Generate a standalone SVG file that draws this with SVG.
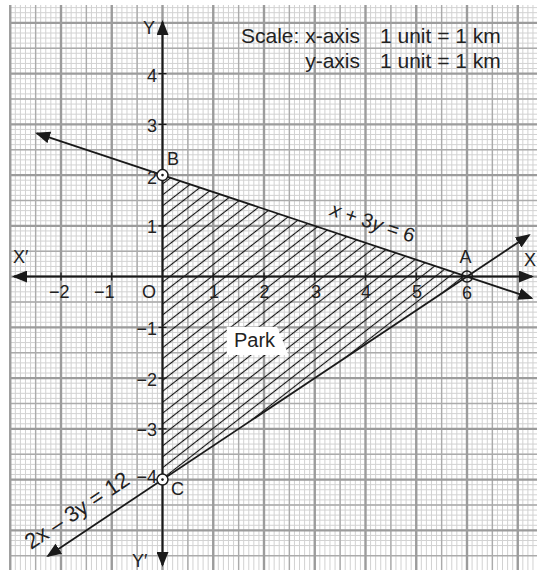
<svg xmlns="http://www.w3.org/2000/svg" width="537" height="570" viewBox="0 0 537 570">
<defs>
<style>
.minor{stroke:#d2d2d2;stroke-width:1;fill:none}
.medium{stroke:#ababab;stroke-width:1.4;fill:none}
.major{stroke:#9c9c9c;stroke-width:2.4;fill:none}
.axis{stroke:#1a1a1a;stroke-width:2;fill:none}
.ln{stroke:#1a1a1a;stroke-width:1.8;fill:none}
.tick{stroke:#1a1a1a;stroke-width:1.3}
.t{font-family:"Liberation Sans",Arial,sans-serif;font-size:18px;fill:#222}
.big{font-family:"Liberation Sans",Arial,sans-serif;font-size:21px;fill:#222}
.eq{font-family:"Liberation Sans",Arial,sans-serif;font-size:20px;fill:#222}
.pt{fill:#fff;stroke:#1a1a1a;stroke-width:1.5}
</style>
<marker id="arr" viewBox="0 0 15 12" refX="13" refY="6" markerWidth="15" markerHeight="12" markerUnits="userSpaceOnUse" orient="auto-start-reverse">
<path d="M0,0 L15,6 L0,12 z" fill="#1a1a1a"/>
</marker>
<pattern id="hatch" patternUnits="userSpaceOnUse" width="20" height="8.6" patternTransform="rotate(-38)">
<line x1="0" y1="4.3" x2="20" y2="4.3" stroke="#111" stroke-width="1.15"/>
</pattern>
<clipPath id="tri"><polygon points="162.5,175.1 467,276.6 162.5,479.6"/></clipPath>
</defs>
<rect width="537" height="570" fill="#fff"/>
<g id="grid">
<path class="minor" d="M10.25,5v565m5.075-565v565m5.075-565v565m5.075-565v565m5.075-565v565m5.075-565v565m5.075-565v565m5.075-565v565m5.075-565v565m5.075-565v565m5.075-565v565m5.075-565v565m5.075-565v565m5.075-565v565m5.075-565v565m5.075-565v565m5.075-565v565m5.075-565v565m5.075-565v565m5.075-565v565m5.075-565v565m5.075-565v565m5.075-565v565m5.075-565v565m5.075-565v565m5.075-565v565m5.075-565v565m5.075-565v565m5.075-565v565m5.075-565v565m5.075-565v565m5.075-565v565m5.075-565v565m5.075-565v565m5.075-565v565m5.075-565v565m5.075-565v565m5.075-565v565m5.075-565v565m5.075-565v565m5.075-565v565m5.075-565v565m5.075-565v565m5.075-565v565m5.075-565v565m5.075-565v565m5.075-565v565m5.075-565v565m5.075-565v565m5.075-565v565m5.075-565v565m5.075-565v565m5.075-565v565m5.075-565v565m5.075-565v565m5.075-565v565m5.075-565v565m5.075-565v565m5.075-565v565m5.075-565v565m5.075-565v565m5.075-565v565m5.075-565v565m5.075-565v565m5.075-565v565m5.075-565v565m5.075-565v565m5.075-565v565m5.075-565v565m5.075-565v565m5.075-565v565m5.075-565v565m5.075-565v565m5.075-565v565m5.075-565v565m5.075-565v565m5.075-565v565m5.075-565v565m5.075-565v565m5.075-565v565m5.075-565v565m5.075-565v565m5.075-565v565m5.075-565v565m5.075-565v565m5.075-565v565m5.075-565v565m5.075-565v565m5.075-565v565m5.075-565v565m5.075-565v565m5.075-565v565m5.075-565v565m5.075-565v565m5.075-565v565m5.075-565v565m5.075-565v565m5.075-565v565m5.075-565v565m5.075-565v565m5.075-565v565m5.075-565v565m5.075-565v565m5.075-565v565m5.075-565v565"/>
<path class="minor" d="M10,7.625h527m-527,5.075h527m-527,5.075h527m-527,5.075h527m-527,5.075h527m-527,5.075h527m-527,5.075h527m-527,5.075h527m-527,5.075h527m-527,5.075h527m-527,5.075h527m-527,5.075h527m-527,5.075h527m-527,5.075h527m-527,5.075h527m-527,5.075h527m-527,5.075h527m-527,5.075h527m-527,5.075h527m-527,5.075h527m-527,5.075h527m-527,5.075h527m-527,5.075h527m-527,5.075h527m-527,5.075h527m-527,5.075h527m-527,5.075h527m-527,5.075h527m-527,5.075h527m-527,5.075h527m-527,5.075h527m-527,5.075h527m-527,5.075h527m-527,5.075h527m-527,5.075h527m-527,5.075h527m-527,5.075h527m-527,5.075h527m-527,5.075h527m-527,5.075h527m-527,5.075h527m-527,5.075h527m-527,5.075h527m-527,5.075h527m-527,5.075h527m-527,5.075h527m-527,5.075h527m-527,5.075h527m-527,5.075h527m-527,5.075h527m-527,5.075h527m-527,5.075h527m-527,5.075h527m-527,5.075h527m-527,5.075h527m-527,5.075h527m-527,5.075h527m-527,5.075h527m-527,5.075h527m-527,5.075h527m-527,5.075h527m-527,5.075h527m-527,5.075h527m-527,5.075h527m-527,5.075h527m-527,5.075h527m-527,5.075h527m-527,5.075h527m-527,5.075h527m-527,5.075h527m-527,5.075h527m-527,5.075h527m-527,5.075h527m-527,5.075h527m-527,5.075h527m-527,5.075h527m-527,5.075h527m-527,5.075h527m-527,5.075h527m-527,5.075h527m-527,5.075h527m-527,5.075h527m-527,5.075h527m-527,5.075h527m-527,5.075h527m-527,5.075h527m-527,5.075h527m-527,5.075h527m-527,5.075h527m-527,5.075h527m-527,5.075h527m-527,5.075h527m-527,5.075h527m-527,5.075h527m-527,5.075h527m-527,5.075h527m-527,5.075h527m-527,5.075h527m-527,5.075h527m-527,5.075h527m-527,5.075h527m-527,5.075h527m-527,5.075h527m-527,5.075h527m-527,5.075h527m-527,5.075h527m-527,5.075h527"/>
<path class="medium" d="M35.625,5V570M86.375,5V570M137.125,5V570M187.875,5V570M238.625,5V570M289.375,5V570M340.125,5V570M390.875,5V570M441.625,5V570M492.375,5V570M10,48.225H537M10,98.975H537M10,149.725H537M10,200.475H537M10,251.225H537M10,301.975H537M10,352.725H537M10,403.475H537M10,454.225H537M10,504.975H537M10,555.725H537"/>
<path class="major" d="M10.25,5V570M61,5V570M111.75,5V570M162.5,5V570M213.25,5V570M264,5V570M314.75,5V570M365.5,5V570M416.25,5V570M467,5V570M517.75,5V570M10,22.85H537M10,73.6H537M10,124.35H537M10,175.1H537M10,225.85H537M10,276.6H537M10,327.35H537M10,378.1H537M10,428.85H537M10,479.6H537M10,530.35H537"/>
</g>
<g id="park-region">
<rect x="150" y="170" width="330" height="320" fill="url(#hatch)" clip-path="url(#tri)"/>
<polygon points="226.7,326.7 277,326.7 288.5,355 226.7,355" fill="#fff"/>
<text class="eq" x="234" y="347">Park</text>
</g>
<g id="connectors">
<line class="axis" x1="14" y1="276.6" x2="532" y2="276.6" marker-start="url(#arr)" marker-end="url(#arr)"/>
<line class="axis" x1="162.5" y1="22" x2="162.5" y2="565" marker-start="url(#arr)" marker-end="url(#arr)"/>
<line class="ln" x1="37" y1="133.3" x2="531.5" y2="298.1" marker-start="url(#arr)" marker-end="url(#arr)"/>
<line class="ln" x1="48" y1="555.9" x2="529" y2="235.2" marker-start="url(#arr)" marker-end="url(#arr)"/>
<path class="tick" d="M61,272.6v8M111.75,272.6v8M213.25,272.6v8M264,272.6v8M314.75,272.6v8M365.5,272.6v8M416.25,272.6v8M158.5,73.6h8M158.5,124.35h8M158.5,225.85h8M158.5,327.35h8M158.5,378.1h8M158.5,428.85h8"/>
</g>
<g id="labels">
<text class="t" x="143" y="34">Y</text>
<text class="t" x="132" y="567">Y′</text>
<text class="t" x="13" y="263">X′</text>
<text class="t" x="524" y="266">X</text>
<text class="t" x="142" y="298">O</text>
<g text-anchor="end">
<text class="t" x="157" y="82">4</text>
<text class="t" x="157" y="132">3</text>
<text class="t" x="157" y="184">2</text>
<text class="t" x="157" y="233">1</text>
<text class="t" x="157" y="335">−1</text>
<text class="t" x="157" y="386">−2</text>
<text class="t" x="157" y="436">−3</text>
<text class="t" x="157" y="483">−4</text>
</g>
<text class="t" x="49" y="298">−2</text>
<text class="t" x="94" y="298">−1</text>
<g text-anchor="middle">
<text class="t" x="214" y="298">1</text>
<text class="t" x="264.5" y="298">2</text>
<text class="t" x="316" y="298">3</text>
<text class="t" x="366" y="298">4</text>
<text class="t" x="417" y="298">5</text>
<text class="t" x="467" y="299">6</text>
</g>
<text class="big" x="360" y="43" text-anchor="end">Scale: x-axis</text>
<text class="big" x="380" y="43">1 unit = 1 km</text>
<text class="big" x="360" y="68" text-anchor="end">y-axis</text>
<text class="big" x="380" y="68">1 unit = 1 km</text>
<text class="eq" transform="translate(329,215) rotate(18.43)"><tspan font-style="italic">x</tspan> + 3<tspan font-style="italic">y</tspan> = 6</text>
<text class="eq" font-size="22" style="font-size:22px" transform="translate(31,550) rotate(-33.69)">2x – 3y = 12</text>
</g>
<g id="point-A">
<circle cx="467" cy="276.6" r="5.5" fill="none" stroke="#1a1a1a" stroke-width="1.5"/>
<text class="t" x="465.5" y="263" text-anchor="middle">A</text>
</g>
<g id="point-B">
<circle class="pt" cx="162.5" cy="175.1" r="5.5"/>
<circle cx="162.5" cy="175.1" r="1.3" fill="#1a1a1a"/>
<text class="t" x="167" y="165">B</text>
</g>
<g id="point-C">
<circle class="pt" cx="162.5" cy="479.6" r="5.5"/>
<circle cx="162.5" cy="479.6" r="1.3" fill="#1a1a1a"/>
<text class="t" x="171" y="495">C</text>
</g>
</svg>
